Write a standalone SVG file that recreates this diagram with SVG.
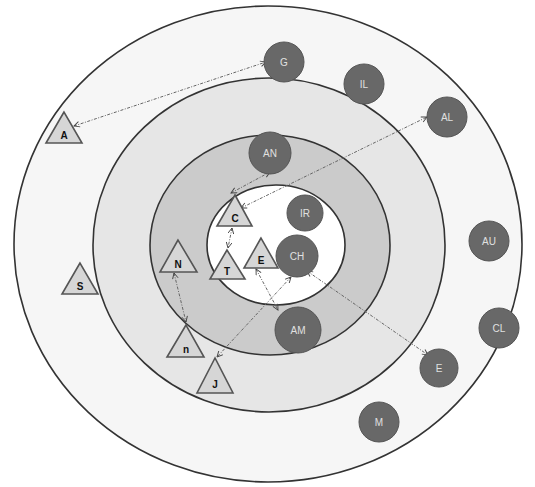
<svg xmlns="http://www.w3.org/2000/svg" width="535" height="487" viewBox="0 0 535 487">
<defs>
<style>
.ring{stroke:#333;stroke-width:1.6}
.c circle{fill:#686868;stroke:#555;stroke-width:1}
.c text{fill:#e0e0e0;font-family:"Liberation Sans",Arial,sans-serif;font-size:10px;text-anchor:middle;dominant-baseline:central}
.t polygon{fill:#d6d6d6;stroke:#555;stroke-width:1.6;stroke-linejoin:miter}
.t text{fill:#111;font-family:"Liberation Sans",Arial,sans-serif;font-size:10px;font-weight:bold;text-anchor:middle;dominant-baseline:central}
.lk{stroke:#666;stroke-width:1;fill:none;stroke-dasharray:3,1.5,1,1.5;marker-start:url(#ah);marker-end:url(#ah)}
</style>
<marker id="ah" viewBox="0 0 10 10" refX="9" refY="5" markerWidth="7" markerHeight="7" orient="auto-start-reverse" markerUnits="userSpaceOnUse">
<path d="M1,1 L9,5 L1,9" fill="none" stroke="#444" stroke-width="1.3"/>
</marker>
</defs>
<rect width="535" height="487" fill="#fff"/>
<g id="rings">
<ellipse class="ring" cx="268" cy="244" rx="254" ry="238" fill="#f6f6f6"/>
<ellipse class="ring" cx="269" cy="245" rx="176" ry="167" fill="#e6e6e6"/>
<ellipse class="ring" cx="270" cy="245" rx="120" ry="110" fill="#cbcbcb"/>
<ellipse class="ring" cx="276" cy="245" rx="69" ry="60" fill="#fff"/>
</g>
<g id="connectors">
<line class="lk" x1="74" y1="126" x2="266" y2="62"/>
<line class="lk" x1="241" y1="208" x2="427" y2="117"/>
<line class="lk" x1="231" y1="193" x2="270" y2="172"/>
<line class="lk" x1="232" y1="228" x2="228" y2="248"/>
<line class="lk" x1="174" y1="273" x2="186" y2="322"/>
<line class="lk" x1="256" y1="269" x2="278" y2="310"/>
<line class="lk" x1="291" y1="277" x2="217" y2="357"/>
<line class="lk" x1="307" y1="271" x2="428" y2="355"/>
</g>
<g id="G" class="c"><circle cx="284" cy="62" r="20"/><text x="284" y="62">G</text></g>
<g id="IL" class="c"><circle cx="364" cy="84" r="20"/><text x="364" y="84">IL</text></g>
<g id="AL" class="c"><circle cx="447" cy="117" r="20"/><text x="447" y="117">AL</text></g>
<g id="AN" class="c"><circle cx="270" cy="153" r="21"/><text x="270" y="153">AN</text></g>
<g id="IR" class="c"><circle cx="305" cy="213" r="18"/><text x="305" y="213">IR</text></g>
<g id="CH" class="c"><circle cx="297" cy="256" r="21"/><text x="297" y="256">CH</text></g>
<g id="AU" class="c"><circle cx="489" cy="241" r="20"/><text x="489" y="241">AU</text></g>
<g id="CL" class="c"><circle cx="499" cy="328" r="20"/><text x="499" y="328">CL</text></g>
<g id="E2" class="c"><circle cx="439" cy="368" r="19"/><text x="439" y="368">E</text></g>
<g id="M" class="c"><circle cx="379" cy="422" r="20"/><text x="379" y="422">M</text></g>
<g id="AM" class="c"><circle cx="298" cy="330" r="23"/><text x="298" y="330">AM</text></g>
<g id="A" class="t"><polygon points="64,112 46,143 82,143"/><text x="64" y="135">A</text></g>
<g id="S" class="t"><polygon points="80,263 62,294 98,294"/><text x="80" y="286">S</text></g>
<g id="N" class="t"><polygon points="178,240 160,272 197,272"/><text x="178" y="264">N</text></g>
<g id="C" class="t"><polygon points="235,195 217,226 252,226"/><text x="235" y="218">C</text></g>
<g id="T" class="t"><polygon points="227,250 210,279 245,279"/><text x="227" y="271">T</text></g>
<g id="E1" class="t"><polygon points="261,238 244,268 278,268"/><text x="261" y="260">E</text></g>
<g id="n" class="t"><polygon points="186,325 167,357 204,357"/><text x="186" y="349">n</text></g>
<g id="J" class="t"><polygon points="215,358 197,393 233,393"/><text x="215" y="384">J</text></g>
</svg>
